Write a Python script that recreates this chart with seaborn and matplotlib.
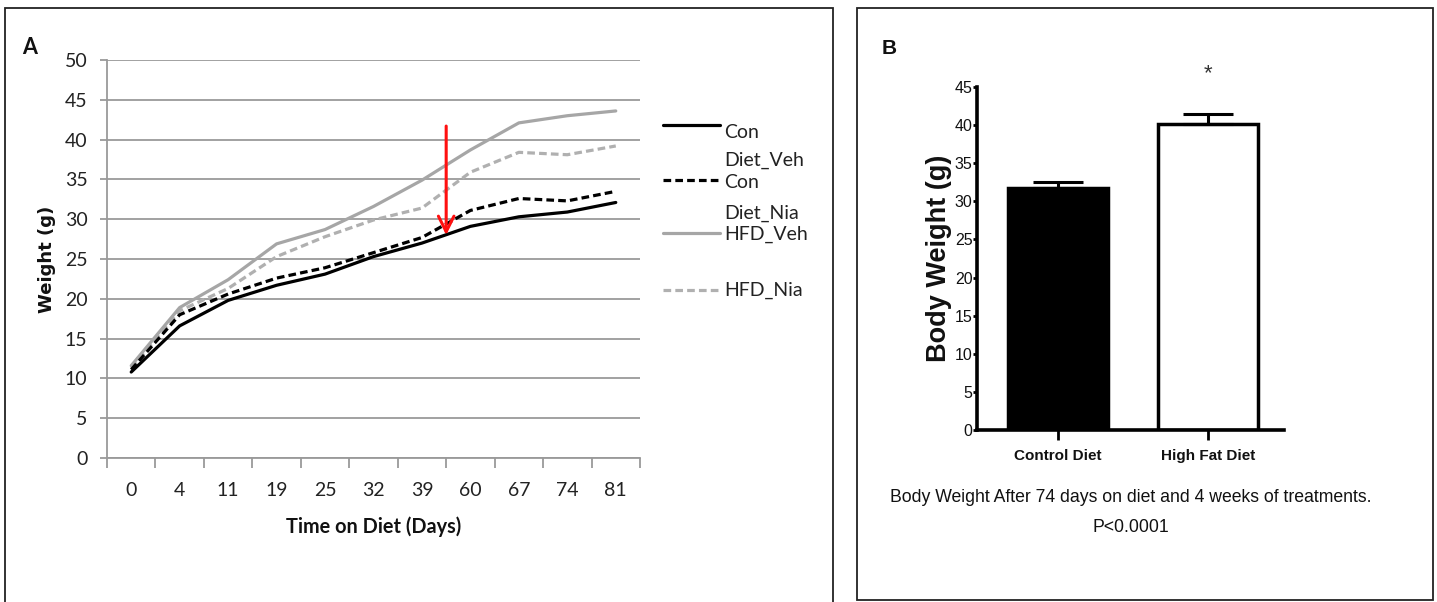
import numpy as np
import pandas as pd
import matplotlib
matplotlib.use("Agg")
import matplotlib.pyplot as plt
import seaborn as sns
from matplotlib import font_manager
from matplotlib.lines import Line2D
from matplotlib.patches import Rectangle

# ---------------- data ----------------
days = ["0", "4", "11", "19", "25", "32", "39", "60", "67", "74", "81"]
con_diet_veh = [10.8, 16.6, 19.8, 21.7, 23.1, 25.3, 27.0, 29.1, 30.3, 30.9, 32.1]
con_diet_nia = [11.1, 18.0, 20.6, 22.6, 23.9, 25.8, 27.7, 31.1, 32.6, 32.3, 33.5]
hfd_veh = [11.6, 18.9, 22.4, 26.9, 28.7, 31.6, 34.9, 38.7, 42.1, 43.0, 43.6]
hfd_nia = [11.3, 18.5, 21.3, 25.3, 27.8, 29.9, 31.4, 35.9, 38.4, 38.1, 39.2]
series_names = ["Con Diet_Veh", "Con Diet_Nia", "HFD_Veh", "HFD_Nia"]

bar_groups = ["Control Diet", "High Fat Diet"]
bar_means = [31.8, 40.1]
bar_sems = [0.7, 1.4]

arrow_top, arrow_tip = 41.7, 28.0

# ---------------- fonts ----------------
def has_font(name):
    try:
        font_manager.findfont(font_manager.FontProperties(family=name), fallback_to_default=False)
        return True
    except Exception:
        return False

FA = "Lato" if has_font("Lato") else "DejaVu Sans"
FB = "Liberation Sans"

sns.set_theme(style="white")
plt.rcParams["font.family"] = [FA, "DejaVu Sans"]

W, H = 1437, 602
fig = plt.figure(figsize=(W / 100, H / 100), dpi=100)

def fx(px):
    return px / W

def fy(py):
    return 1 - py / H

# panel frames
fig.add_artist(Rectangle((fx(5), fy(640)), fx(833) - fx(5), fy(8) - fy(640),
                         transform=fig.transFigure, fill=False, edgecolor="#222222", lw=1.3))
fig.add_artist(Rectangle((fx(857), fy(600)), fx(1433) - fx(857), fy(8) - fy(600),
                         transform=fig.transFigure, fill=False, edgecolor="#222222", lw=1.3))

# ---------------- Panel A ----------------
axA = fig.add_axes([fx(107), fy(458), fx(640) - fx(107), fy(60) - fy(458)])
pos = np.arange(len(days))
df = pd.DataFrame({"pos": np.tile(pos, 4),
                   "w": con_diet_veh + con_diet_nia + hfd_veh + hfd_nia,
                   "series": np.repeat(series_names, len(days))})
styles = {
    "Con Diet_Veh": dict(color="black", ls="-", lw=2.3),
    "Con Diet_Nia": dict(color="black", ls=(0, (2.4, 1.3)), lw=2.3),
    "HFD_Veh": dict(color="#a6a6a6", ls="-", lw=2.3),
    "HFD_Nia": dict(color="#b0b0b0", ls=(0, (2.4, 1.3)), lw=2.3),
}
for name in ["HFD_Nia", "HFD_Veh", "Con Diet_Nia", "Con Diet_Veh"]:
    st = styles[name]
    sub = df[df.series == name]
    sns.lineplot(data=sub, x="pos", y="w", ax=axA, color=st["color"],
                 linestyle=st["ls"], linewidth=st["lw"], legend=False)

axA.set_xlim(-0.5, len(days) - 0.5)
axA.set_ylim(0, 50)
axA.set_yticks(np.arange(0, 51, 5))
axA.set_xticks(pos)
axA.set_xticklabels(days)
axA.set_xticks(np.arange(-0.5, len(days), 1), minor=True)
axA.grid(axis="y", color="#9a9a9a", lw=1.3)
axA.grid(axis="x", visible=False)
for s in ["top", "right"]:
    axA.spines[s].set_visible(False)
for s in ["left", "bottom"]:
    axA.spines[s].set_color("#9a9a9a")
    axA.spines[s].set_linewidth(1.3)
axA.tick_params(axis="y", which="major", left=True, length=5, width=1.3, color="#9a9a9a",
                labelsize=14, pad=9, labelcolor="#222222")
axA.tick_params(axis="x", which="major", bottom=False, length=0, labelsize=14, pad=17,
                labelcolor="#222222")
axA.tick_params(axis="x", which="minor", bottom=True, length=7, width=1.3, color="#9a9a9a")
axA.set_xlabel("Time on Diet (Days)", fontsize=14.3, fontweight="bold", labelpad=13, color="#111111")
axA.set_ylabel("Weight (g)", fontsize=13, fontweight="bold", family=["DejaVu Sans"],
               labelpad=6, color="#111111")

axA.annotate("", xy=(6.5, arrow_tip), xytext=(6.5, arrow_top),
             arrowprops=dict(arrowstyle="->", color="#ff1010", lw=2.2, mutation_scale=28,
                             shrinkA=0, shrinkB=0))

fig.text(fx(22), fy(47), "A", fontsize=15.5, fontweight="bold", ha="left", va="center", color="#111111")

# manual legend (matches the odd wrapped layout)
leg_rows = [125, 180, 233, 290]
for name, yy in zip(series_names, leg_rows):
    st = styles[name]
    fig.add_artist(Line2D([fx(663), fx(720)], [fy(yy), fy(yy)], transform=fig.transFigure,
                          color=st["color"], linestyle=st["ls"], linewidth=st["lw"]))
leg_texts = [("Con", 133), ("Diet_Veh", 160), ("Con", 182), ("Diet_Nia", 213),
             ("HFD_Veh", 234), ("HFD_Nia", 290)]
for t, yy in leg_texts:
    fig.text(fx(724), fy(yy), t, fontsize=14, ha="left", va="center", color="#222222")

# ---------------- Panel B ----------------
axB = fig.add_axes([fx(977), fy(430), fx(1284) - fx(977), fy(87) - fy(430)])
sns.barplot(x=bar_groups, y=bar_means, hue=bar_groups, palette=["black", "white"],
            edgecolor="black", linewidth=2.5, width=0.67, errorbar=None, legend=False, ax=axB)
axB.errorbar(np.arange(len(bar_groups)), bar_means,
             yerr=[np.zeros(len(bar_sems)), bar_sems], fmt="none", ecolor="black",
             elinewidth=2.2, capsize=18, capthick=2.2)
axB.set_xlim(-0.54, 1.507)
axB.set_ylim(0, 45)
axB.set_yticks(np.arange(0, 46, 5))
for s in ["top", "right"]:
    axB.spines[s].set_visible(False)
for s in ["left", "bottom"]:
    axB.spines[s].set_color("black")
    axB.spines[s].set_linewidth(2.6)
axB.tick_params(axis="y", left=True, length=3, width=2, color="black", pad=0.3)
axB.tick_params(axis="x", bottom=True, length=7, width=2, color="black", pad=6.5)
for lab in axB.get_yticklabels():
    lab.set_fontfamily([FB, "DejaVu Sans"])
    lab.set_fontsize(11.5)
    lab.set_color("#111111")
for lab in axB.get_xticklabels():
    lab.set_fontfamily([FB, "DejaVu Sans"])
    lab.set_fontsize(11)
    lab.set_fontweight("bold")
    lab.set_color("#111111")
axB.set_ylabel("Body Weight (g)", fontsize=19.5, fontweight="bold", family=[FB, "DejaVu Sans"],
               labelpad=2, color="#111111")
axB.set_xlabel("")
axB.text(1, 46.8, "*", ha="center", va="center", fontsize=16, family=[FB, "DejaVu Sans"],
         color="#333333", clip_on=False)

fig.text(fx(1131), fy(498), "Body Weight After 74 days on diet and 4 weeks of treatments.",
         ha="center", va="center", fontsize=12.7, family=[FB, "DejaVu Sans"], color="#111111")
fig.text(fx(1131), fy(527), "P<0.0001", ha="center", va="center", fontsize=12.7,
         family=[FB, "DejaVu Sans"], color="#111111")
fig.text(fx(882), fy(48), "B", fontsize=15, fontweight="bold", ha="left", va="center",
         family=[FB, "DejaVu Sans"], color="#111111")

fig.savefig("out.png", dpi=100)
